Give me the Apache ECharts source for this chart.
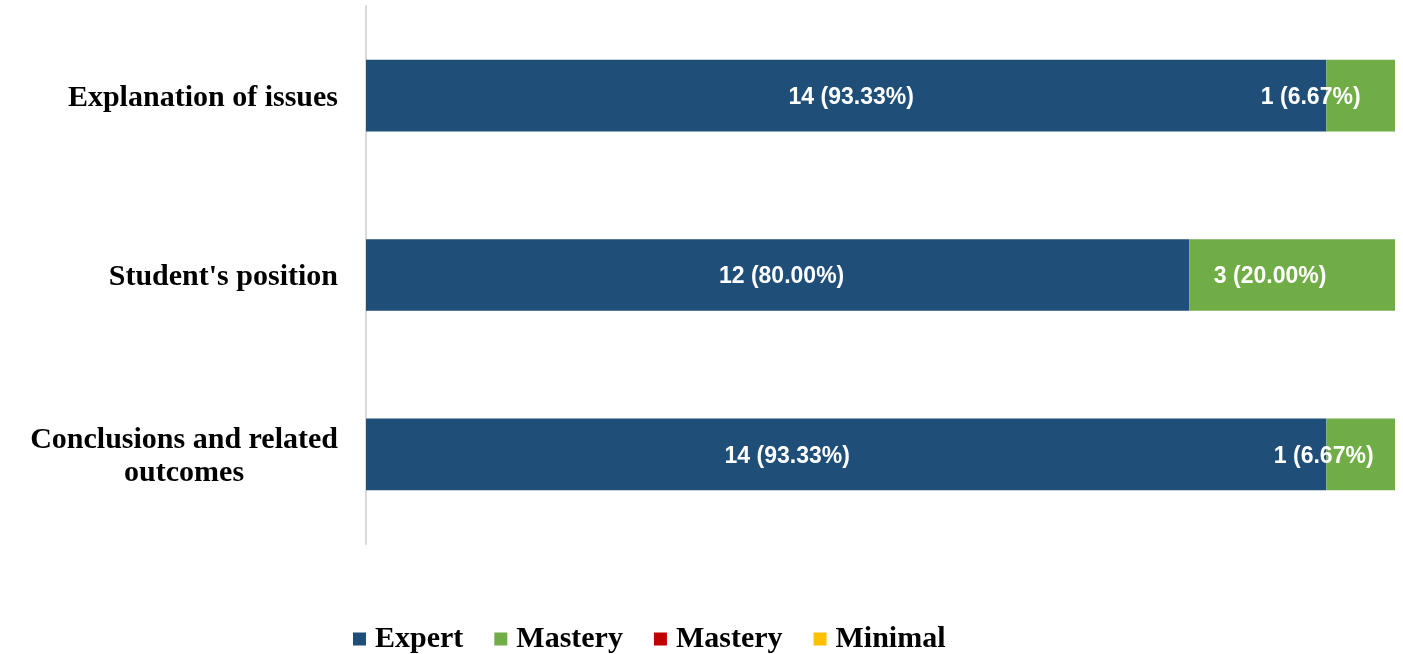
<!DOCTYPE html>
<html>
<head>
<meta charset="utf-8">
<script src="https://cdn.jsdelivr.net/npm/echarts@6/dist/echarts.min.js"></script>
<style>
  html, body { margin: 0; padding: 0; background: #fff; }
  #chart { width: 1403px; height: 654px; }
</style>
</head>
<body>
<div id="chart"></div>
<script>
// Rubric criteria, top to bottom
const categories = ['Explanation of issues', "Student's position", 'Conclusions and related outcomes'];

// Number of students per level and share of the 15 students
const expertCount = [14, 12, 14];
const expertPct = [93.33, 80.00, 93.33];
const masteryCount = [1, 3, 1];
const masteryPct = [6.67, 20.00, 6.67];
const mastery2Count = [0, 0, 0];
const mastery2Pct = [0, 0, 0];
const minimalCount = [0, 0, 0];
const minimalPct = [0, 0, 0];

// Horizontal nudges of the value labels (px)
const expertLabelShift = [5, 4, -59];
const masteryLabelShift = [-50, -22, -37];

const serifFont = '"Liberation Serif", serif';
const sansFont = 'Arial, "Liberation Sans", sans-serif';
const serifSize = 30;

function makeData(pcts, counts, shifts) {
  return pcts.map((v, i) => ({
    value: v,
    count: counts[i],
    label: shifts ? { offset: [shifts[i], 2] } : undefined
  }));
}

function makeSeries(name, color, pcts, counts, shifts) {
  return {
    name: name,
    type: 'bar',
    stack: 'total',
    barWidth: '40%',
    itemStyle: { color: color },
    emphasis: { disabled: true },
    label: {
      show: true,
      position: 'inside',
      color: '#fff',
      fontFamily: sansFont,
      fontWeight: 'bold',
      fontSize: 23,
      formatter: p => p.value > 0 ? p.data.count + ' (' + p.value.toFixed(2) + '%)' : ''
    },
    data: makeData(pcts, counts, shifts)
  };
}

const chart = echarts.init(document.getElementById('chart'));
chart.setOption({
  animation: false,
  backgroundColor: '#fff',
  grid: { left: 366, right: 8, top: 6, bottom: 110, containLabel: false, outerBoundsMode: 'none' },
  xAxis: {
    type: 'value',
    min: 0,
    max: 100,
    show: false
  },
  yAxis: {
    type: 'category',
    inverse: true,
    data: categories,
    axisLine: { show: true, lineStyle: { color: '#d9d9d9', width: 2 } },
    axisTick: { show: false },
    axisLabel: {
      margin: 28,
      padding: [5, 0, 0, 0],
      fontFamily: serifFont,
      fontWeight: 'bold',
      fontSize: serifSize,
      color: '#000',
      formatter: (v, i) => i === 2
        ? '{c|Conclusions and related}\n{c|outcomes}'
        : v,
      rich: {
        c: {
          align: 'center',
          fontFamily: serifFont,
          fontWeight: 'bold',
          fontSize: serifSize,
          color: '#000',
          lineHeight: 33
        }
      }
    }
  },
  legend: {
    left: 353,
    top: 624,
    padding: 0,
    itemWidth: 13,
    itemHeight: 13,
    itemGap: 31,
    icon: 'rect',
    formatter: n => n.trim(),
    textStyle: {
      fontFamily: serifFont,
      fontWeight: 'bold',
      fontSize: serifSize,
      color: '#000',
      padding: [0, 0, 0, 4]
    },
    data: ['Expert', 'Mastery', 'Mastery ', 'Minimal']
  },
  series: [
    makeSeries('Expert', '#1F4E79', expertPct, expertCount, expertLabelShift),
    makeSeries('Mastery', '#70AD47', masteryPct, masteryCount, masteryLabelShift),
    makeSeries('Mastery ', '#C00000', mastery2Pct, mastery2Count, null),
    makeSeries('Minimal', '#FFC000', minimalPct, minimalCount, null)
  ]
});
</script>
</body>
</html>
